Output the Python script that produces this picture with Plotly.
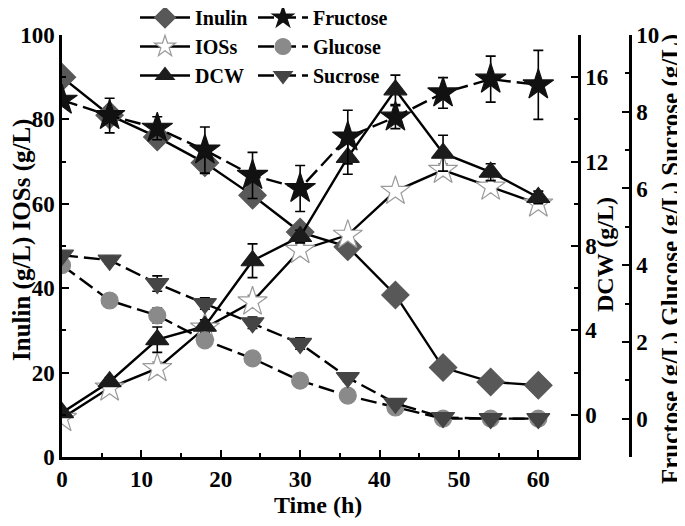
import plotly.graph_objects as go

time_h = [0, 6, 12, 18, 24, 30, 36, 42, 48, 54, 60]

inulin = [90, 81, 75.8, 69.7, 62, 53.3, 49.8, 38.4, 21.2, 17.8, 17]
inulin_err = [0.5, 1.0, 1.0, 2.5, 1.0, 1.0, 1.0, 1.0, 0.5, 0.5, 0.5]

ioss = [9.2, 16.4, 21, 30.6, 36.8, 49, 52.6, 63, 68, 64, 60]
ioss_err = [0.5, 1.0, 1.5, 1.0, 1.5, 1.5, 1.0, 1.0, 1.5, 1.5, 1.0]

dcw = [0.1, 1.57, 3.56, 4.2, 7.3, 8.45, 12.2, 15.4, 12.4, 11.5, 10.3]
dcw_err = [0.1, 0.2, 0.6, 0.3, 0.8, 0.3, 0.8, 0.7, 0.85, 0.4, 0.3]

fructose = [8.3, 7.9, 7.57, 7.0, 6.34, 6.0, 7.34, 7.86, 8.49, 8.85, 8.7]
fructose_err = [0.1, 0.45, 0.3, 0.6, 0.6, 0.6, 0.7, 0.3, 0.4, 0.6, 0.9]

glucose = [4.0, 3.08, 2.69, 2.04, 1.57, 0.99, 0.6, 0.29, 0.0, 0.0, 0.0]
glucose_err = [0.1, 0.05, 0.2, 0.1, 0.05, 0.05, 0.15, 0.05, 0.05, 0.05, 0.05]

sucrose = [4.26, 4.13, 3.52, 3.0, 2.5, 1.96, 1.07, 0.4, 0.03, 0.0, 0.0]
sucrose_err = [0.1, 0.1, 0.2, 0.15, 0.15, 0.15, 0.1, 0.05, 0.05, 0.05, 0.05]

x_ticks = [0, 10, 20, 30, 40, 50, 60]
left_ticks = [0, 20, 40, 60, 80, 100]
dcw_ticks = [0, 4, 8, 12, 16]
sugar_ticks = [0, 2, 4, 6, 8, 10]

FONT = "Liberation Serif"
LW = 2.4
DASH = "16px,6px"
OFF = 8  # default page body margin

fig = go.Figure()

def add(name, y, err, yaxis, symbol, size, fill, outline, dash, ecolor, legend):
    fig.add_trace(go.Scatter(
        x=time_h, y=y, name=name, yaxis=yaxis, mode="lines+markers",
        line=dict(color="black", width=LW, dash=dash),
        marker=dict(symbol=symbol, size=size, color=fill,
                    line=dict(color=outline, width=1.2)),
        error_y=dict(type="data", array=err, visible=True, color=ecolor,
                     thickness=1.6, width=5),
        legend=legend, legendgroup=name,
    ))

add("Inulin", inulin, inulin_err, "y", "diamond", 21, "#585858", "#585858", "solid", "black", "legend")
add("IOSs", ioss, ioss_err, "y", "star", 22, "white", "#9a9a9a", "solid", "#8a8a8a", "legend")
add("DCW", dcw, dcw_err, "y2", "triangle-up", 20, "#1c1c1c", "#1c1c1c", "solid", "black", "legend")
add("Fructose", fructose, fructose_err, "y3", "star", 23, "#111111", "#111111", DASH, "black", "legend2")
add("Glucose", glucose, glucose_err, "y3", "circle", 17, "#8a8a8a", "#8a8a8a", DASH, "#555555", "legend2")
add("Sucrose", sucrose, sucrose_err, "y3", "triangle-down", 20, "#454545", "#454545", DASH, "black", "legend2")

tickfont = dict(family=FONT, size=23, color="black", weight="bold")
axis_common = dict(showline=True, linecolor="black", linewidth=2.5, ticks="inside",
                   ticklen=7, tickwidth=2.2, tickcolor="black", showgrid=False,
                   zeroline=False, tickfont=tickfont)
minor = dict(ticks="inside", ticklen=4, tickwidth=2, tickcolor="black", showgrid=False)

def bold(vals):
    return ["<b>%d</b>" % v for v in vals]

legend_font = dict(family=FONT, size=20, color="black", weight="bold")

fig.update_layout(
    width=685 - OFF, height=526 - OFF,
    margin=dict(l=62 - OFF, r=53, t=35 - OFF, b=69, autoexpand=False),
    paper_bgcolor="white", plot_bgcolor="white",
    xaxis=dict(range=[0, 65], domain=[0, 516 / 570], tickvals=x_ticks, ticktext=bold(x_ticks),
               minor=dict(dtick=5, **minor), **axis_common),
    yaxis=dict(range=[0, 100], tickvals=left_ticks, ticktext=bold(left_ticks),
               minor=dict(dtick=10, **minor), **axis_common),
    yaxis2=dict(range=[-2, 18], overlaying="y", side="right", anchor="x",
                tickvals=dcw_ticks, ticktext=bold(dcw_ticks),
                minor=dict(dtick=2, **minor), **axis_common),
    yaxis3=dict(range=[-1, 10], overlaying="y", side="right", anchor="free",
                position=(630 - 62) / 570, tickvals=sugar_ticks, ticktext=bold(sugar_ticks),
                minor=dict(dtick=1, **minor), **axis_common),
    legend=dict(x=(135 - 62) / 570, y=(457 + 2) / 422, xanchor="left", yanchor="top",
                bgcolor="rgba(0,0,0,0)", tracegroupgap=0, traceorder="grouped",
                itemwidth=50, font=legend_font),
    legend2=dict(x=(253 - 62) / 570, y=(457 + 2) / 422, xanchor="left", yanchor="top",
                 bgcolor="rgba(0,0,0,0)", tracegroupgap=0, traceorder="grouped",
                 itemwidth=50, font=legend_font),
)

W, H = 570, 422
def px(xp):
    return (xp - 62) / W
def py(yp):
    return (457 - yp) / H

def title(text, x, y, size, angle):
    fig.add_annotation(text="<b>%s</b>" % text, x=px(x), y=py(y), xref="paper", yref="paper",
                       textangle=angle, showarrow=False,
                       font=dict(family=FONT, size=size, color="black"),
                       xanchor="center", yanchor="middle")

title("Inulin (g/L) IOSs (g/L)", 22, 240, 25, -90)
title("DCW (g/L)", 605, 255, 24, -90)
title("Fructose (g/L) Glucose (g/L) Sucrose (g/L)", 671, 259, 25, -90)
title("Time (h)", 318, 505, 24, 0)

fig.write_html("out.html")
